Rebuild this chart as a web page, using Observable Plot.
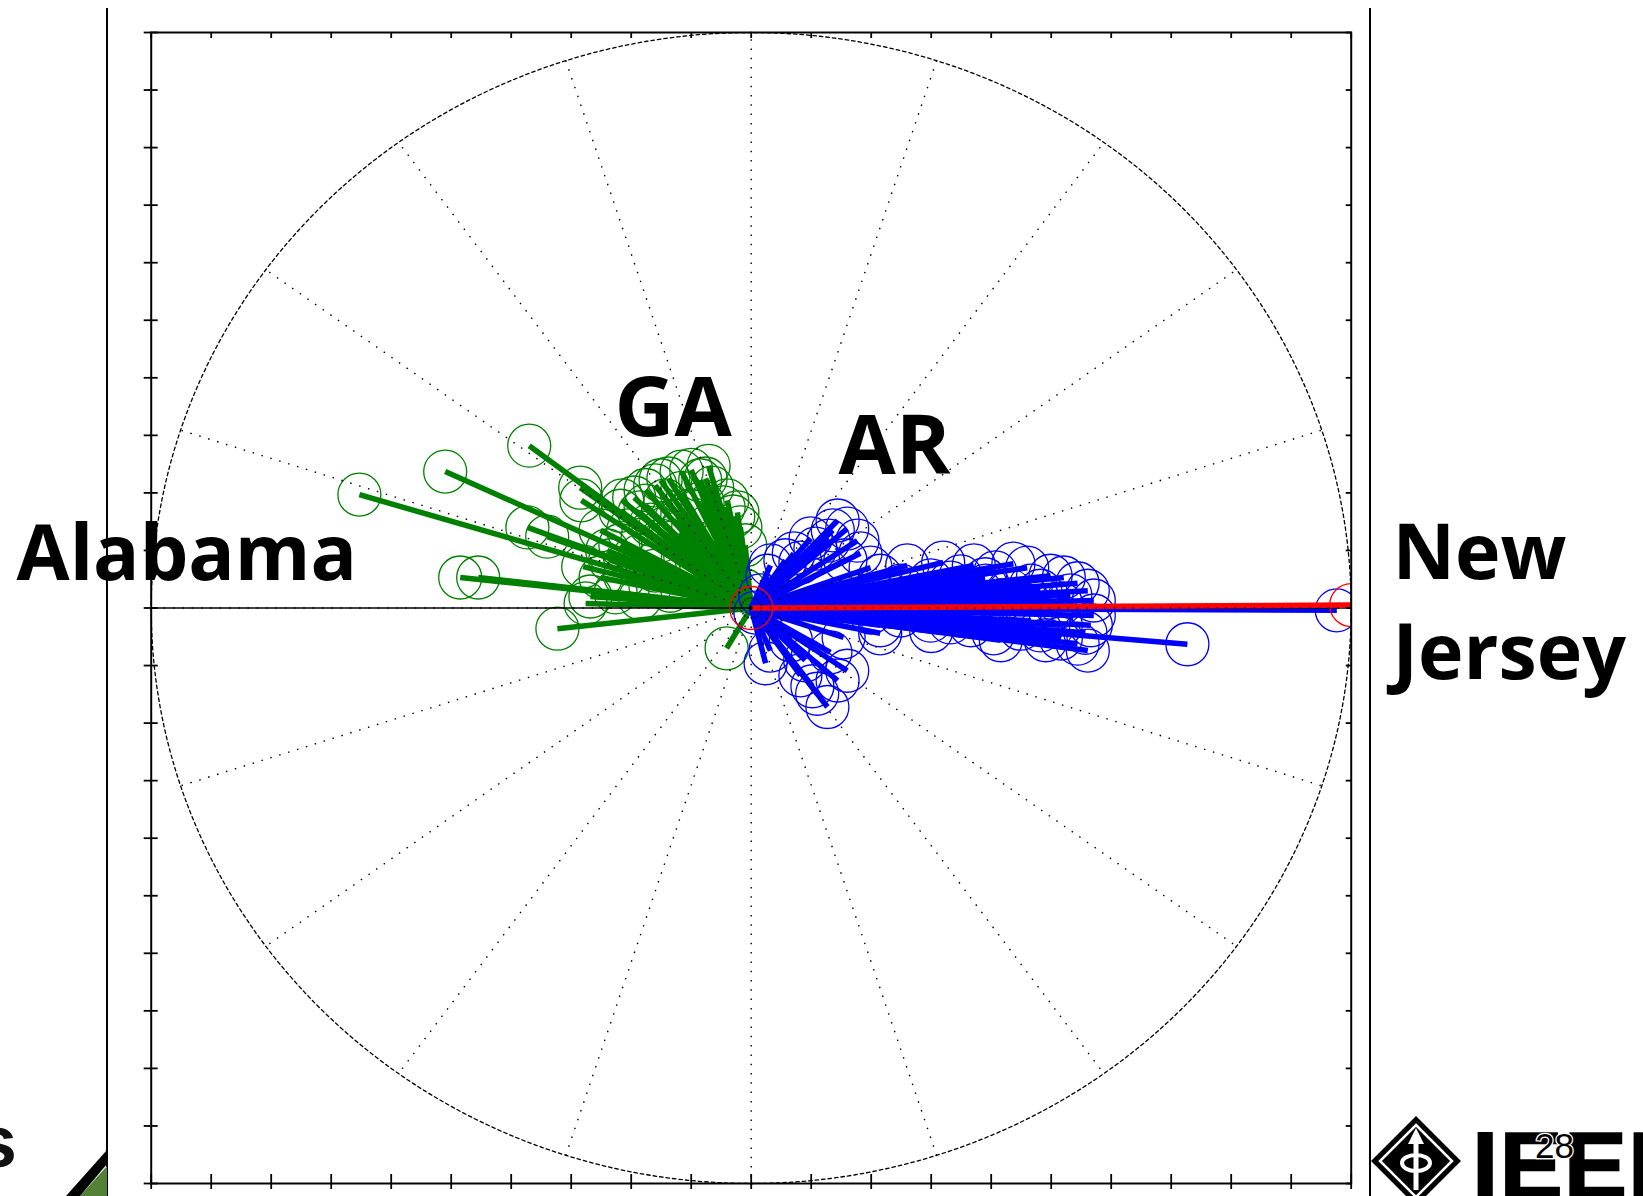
<!DOCTYPE html>
<html>
<head>
<meta charset="utf-8">
<script src="https://cdn.jsdelivr.net/npm/d3@7"></script>
<script src="https://cdn.jsdelivr.net/npm/@observablehq/plot@0.6"></script>
<style>
html, body { margin: 0; padding: 0; background: #fff; }
#wrap { position: relative; width: 1643px; height: 1196px; overflow: hidden; background: #fff; }
#deco { position: absolute; left: 0; top: 0; }
#chart { position: absolute; left: 0; top: 0; }
</style>
</head>
<body>
<div id="wrap">
  <svg id="deco" width="1643" height="1196" viewBox="0 0 1643 1196">
    <line x1="107" y1="8" x2="107" y2="1196" stroke="#000" stroke-width="2"/>
    <line x1="1370" y1="8" x2="1370" y2="1196" stroke="#000" stroke-width="2"/>
    <polygon points="80,1196 107,1166 107,1196" fill="#538135"/>
    <polygon points="66,1196 107,1150 107,1164 80,1196" fill="#000"/>
    <text x="17" y="1167" text-anchor="end" font-family="Liberation Sans, Arial, sans-serif" font-weight="700" font-size="75" fill="#111">s</text>
    <g>
      <polygon points="1416,1116 1461,1161 1416,1206 1371,1161" fill="#000"/>
      <polygon points="1416,1125 1452,1161 1416,1197 1380,1161" fill="none" stroke="#fff" stroke-width="2.5"/>
      <line x1="1416" y1="1140" x2="1416" y2="1190" stroke="#fff" stroke-width="5"/>
      <polygon points="1416,1128 1408,1144 1424,1144" fill="#fff"/>
      <ellipse cx="1416" cy="1163" rx="14" ry="8" fill="none" stroke="#fff" stroke-width="4"/>
    </g>
    <text x="1472" y="1198" font-family="Liberation Sans, Arial, sans-serif" font-weight="700" font-size="95" fill="#000" stroke="#000" stroke-width="1.5" letter-spacing="1">IEEE</text>
    <text x="1535" y="1158" font-family="Liberation Sans, Arial, sans-serif" font-size="35" fill="#000" stroke="#fff" stroke-width="2.5" paint-order="stroke">28</text>
  </svg>
  <div id="chart"></div>
</div>
<script>
// Green cluster (GA / Alabama side)
const greenU = [-0.653, -0.510, -0.370, -0.283, -0.373, -0.340, -0.485, -0.455, -0.323, -0.041,
  -0.280, -0.268, -0.160, -0.138, -0.100, -0.076, -0.071, -0.116, -0.081, -0.046,
  -0.030, -0.018, -0.010, -0.195, -0.186, -0.168, -0.205, -0.218, -0.185, -0.151,
  -0.126, -0.101, -0.143, -0.176, -0.235, -0.210, -0.251, -0.168, -0.135, -0.226,
  -0.218, -0.251, -0.285, -0.040, -0.023, -0.010, -0.085, -0.060, -0.110, -0.276, -0.185,
  -0.116, -0.065, -0.085, -0.151, -0.176, -0.215, -0.240, -0.160, -0.120];
const greenV = [0.197, 0.237, 0.282, 0.187, 0.140, 0.124, 0.053, 0.053, -0.036, -0.070,
  0.072, 0.020, 0.213, 0.225, 0.240, 0.225, 0.247, 0.200, 0.183, 0.175,
  0.159, 0.140, 0.109, 0.192, 0.166, 0.145, 0.135, 0.109, 0.091, 0.117,
  0.152, 0.169, 0.187, 0.178, 0.083, 0.056, 0.053, 0.039, 0.030, 0.027,
  0.169, 0.135, 0.209, 0.187, 0.166, 0.030, 0.083, 0.117, 0.091, 0.008, 0.017,
  0.237, 0.209, 0.222, 0.222, 0.205, 0.187, 0.100, 0.065, 0.130];

// Blue cluster (AR side)
const blueU = [0.144, 0.160, 0.177, 0.182, 0.199, 0.129, 0.107, 0.071, 0.057, 0.032,
  0.027, 0.136, 0.099, 0.082, 0.157, 0.260, 0.320, 0.371, 0.437, 0.460,
  0.521, 0.544, 0.561, 0.571, 0.499, 0.407, 0.349, 0.299, 0.249, 0.215,
  0.482, 0.532, 0.432, 0.391, 0.341, 0.282, 0.232, 0.516, 0.416, 0.366,
  0.316, 0.571, 0.566, 0.557, 0.544, 0.561, 0.516, 0.482, 0.449, 0.404,
  0.366, 0.332, 0.299, 0.249, 0.199, 0.727, 0.976, 0.416, 0.491, 0.154,
  0.215, 0.499, 0.449, 0.024, 0.127, 0.144, 0.160, 0.110, 0.102, 0.082,
  0.032, 0.090, 0.132, 0.066, 0.007, 0.015,
  0.332, 0.466, 0.249, 0.349, 0.466, 0.215, 0.516, 0.390, 0.300];
const blueV = [0.152, 0.138, 0.117, 0.095, 0.070, 0.117, 0.103, 0.095, 0.083, 0.074,
  0.056, 0.135, 0.121, 0.079, 0.083, 0.074, 0.079, 0.074, 0.077, 0.070,
  0.053, 0.043, 0.030, 0.013, 0.056, 0.062, 0.055, 0.048, 0.039, 0.056,
  0.030, 0.022, 0.030, 0.039, 0.030, 0.022, 0.022, 0.008, 0.013, 0.017,
  0.010, -0.013, -0.030, -0.043, -0.062, -0.074, -0.053, -0.039, -0.036, -0.044,
  -0.030, -0.025, -0.022, -0.013, -0.008, -0.063, -0.004, -0.056, -0.056, -0.051,
  -0.044, -0.008, -0.004, -0.096, -0.172, -0.126, -0.109, -0.149, -0.136, -0.117,
  -0.074, -0.091, -0.077, -0.056, -0.008, 0.022,
  0.044, 0.039, 0.013, -0.013, -0.022, -0.030, -0.030, 0.050, -0.040];

// Red (New Jersey reference)
const redU = [1.0, 0.0];
const redV = [0.005, 0.0];

// Text labels
const labelNames = ["Alabama", "GA", "AR", "New\nJersey"];

// Axis tick values and polar grid spoke angles (degrees)
const tickValues = d3.range(-10, 11).map(i => i / 10);
const spokeAngles = d3.range(0, 360, 18);

// ---- build tables ----
const toRows = (U, V) => U.map((u, i) => ({u, v: V[i]}));
const green = toRows(greenU, greenV);
const blue = toRows(blueU, blueV);
const red = toRows(redU, redV);
const bigLabels = [
  {text: labelNames[0], x: -1.2245, y: 0.0495},
  {text: labelNames[3], x: 1.0688, y: -0.1242}
];
const smallLabels = [
  {text: labelNames[1], x: -0.228, y: 0.2997},
  {text: labelNames[2], x: 0.1455, y: 0.2329}
];
const rad = Math.PI / 180;
const circleAngles = d3.range(0, 361, 1);

const W = 1643, H = 1196;
const vecStyle = (c) => ({x1: 0, y1: 0, x2: "u", y2: "v", stroke: c, strokeWidth: 5.5, strokeLinecap: "butt", clip: true});
const dotStyle = (c) => ({x: "u", y: "v", r: 21.5, stroke: c, fill: "none", strokeWidth: 1.3, clip: true});
const noText = () => "";
const labelStyle = (size) => ({
  x: "x", y: "y", text: "text",
  textAnchor: "start", lineAnchor: "bottom", lineHeight: 1.3,
  fontFamily: "Open Sans", fontWeight: 700, fontSize: size, fill: "#000"
});

const chart = Plot.plot({
  width: W,
  height: H,
  marginLeft: 150.7,
  marginRight: W - 1350.7,
  marginTop: 32,
  marginBottom: H - 1183,
  x: {domain: [-1, 1]},
  y: {domain: [-1, 1]},
  style: {background: "transparent", overflow: "visible"},
  marks: [
    Plot.link(green, vecStyle("#008000")),
    Plot.dot(green, dotStyle("#008000")),
    Plot.link(blue, vecStyle("#0000ff")),
    Plot.dot(blue, dotStyle("#0000ff")),
    Plot.ruleY([0], {stroke: "#000", strokeWidth: 1.6}),
    Plot.link(red, vecStyle("#ff0000")),
    Plot.dot(red, dotStyle("#ff0000")),
    Plot.link(spokeAngles, {
      x1: 0, y1: 0,
      x2: a => Math.cos(a * rad), y2: a => Math.sin(a * rad),
      stroke: "#000", strokeWidth: 1.4, strokeDasharray: "1.5,7.8"
    }),
    Plot.line(circleAngles, {
      x: a => Math.cos(a * rad), y: a => Math.sin(a * rad),
      stroke: "#000", strokeWidth: 1.3, strokeDasharray: "3.5,3"
    }),
    Plot.frame({stroke: "#000", strokeWidth: 2}),
    Plot.axisX({anchor: "top", ticks: tickValues, tickSize: -5, tickFormat: noText, label: null, strokeWidth: 1.8}),
    Plot.axisX({anchor: "bottom", ticks: tickValues, tickSize: 6, tickFormat: noText, label: null, strokeWidth: 1.8}),
    Plot.axisX({anchor: "bottom", ticks: tickValues, tickSize: -9, tickFormat: noText, label: null, strokeWidth: 1.8}),
    Plot.axisY({anchor: "left", ticks: tickValues, tickSize: 7, tickFormat: noText, label: null, strokeWidth: 1.8}),
    Plot.axisY({anchor: "left", ticks: tickValues, tickSize: -7, tickFormat: noText, label: null, strokeWidth: 1.8}),
    Plot.axisY({anchor: "right", ticks: tickValues, tickSize: -6, tickFormat: noText, label: null, strokeWidth: 1.8}),
    Plot.text(bigLabels, labelStyle(77)),
    Plot.text(smallLabels, labelStyle(83))
  ]
});
document.getElementById("chart").appendChild(chart);
</script>
</body>
</html>
